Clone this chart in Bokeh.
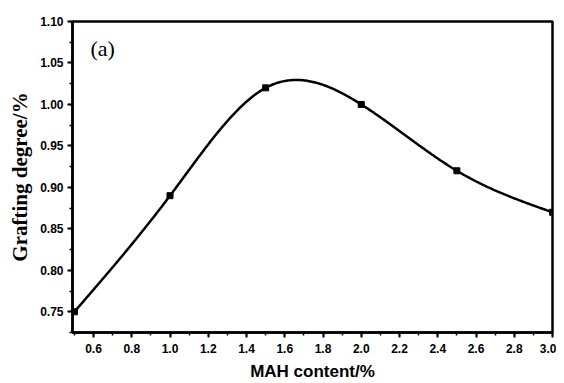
import numpy as np
from bokeh.plotting import figure
from bokeh.models import Range1d, FixedTicker, Label, CustomJSTickFormatter
from bokeh.embed import file_html
from bokeh.resources import INLINE

# data
mah_content = [0.5, 1.0, 1.5, 2.0, 2.5, 3.0]
grafting_degree = [0.75, 0.89, 1.02, 1.00, 0.92, 0.87]
x_ticks = [0.6, 0.8, 1.0, 1.2, 1.4, 1.6, 1.8, 2.0, 2.2, 2.4, 2.6, 2.8, 3.0]
y_ticks = [0.75, 0.80, 0.85, 0.90, 0.95, 1.00, 1.05, 1.10]


def natural_spline(xs, ys, n=400):
    xs = np.asarray(xs, float)
    ys = np.asarray(ys, float)
    m = len(xs)
    h = np.diff(xs)
    A = np.zeros((m, m))
    b = np.zeros(m)
    A[0, 0] = 1
    A[-1, -1] = 1
    for i in range(1, m - 1):
        A[i, i - 1] = h[i - 1]
        A[i, i] = 2 * (h[i - 1] + h[i])
        A[i, i + 1] = h[i]
        b[i] = 6 * ((ys[i + 1] - ys[i]) / h[i] - (ys[i] - ys[i - 1]) / h[i - 1])
    M = np.linalg.solve(A, b)
    xx = np.linspace(xs[0], xs[-1], n)
    yy = np.empty_like(xx)
    for k, xv in enumerate(xx):
        i = min(np.searchsorted(xs, xv, side="right") - 1, m - 2)
        t1 = xs[i + 1] - xv
        t0 = xv - xs[i]
        yy[k] = (M[i] * t1 ** 3 / (6 * h[i]) + M[i + 1] * t0 ** 3 / (6 * h[i])
                 + (ys[i] / h[i] - M[i] * h[i] / 6) * t1
                 + (ys[i + 1] / h[i] - M[i + 1] * h[i] / 6) * t0)
    return xx, yy


p = figure(width=556, height=383, output_backend="svg", toolbar_location=None,
           x_range=Range1d(0.49, 3.0), y_range=Range1d(0.725, 1.10),
           min_border_left=72, min_border_top=21, min_border_right=4, min_border_bottom=50)
p.outline_line_color = "black"
p.outline_line_width = 2.5
p.xgrid.visible = False
p.ygrid.visible = False

sx, sy = natural_spline(mah_content, grafting_degree)
p.line(sx, sy, line_color="black", line_width=2.5)
p.scatter(mah_content, grafting_degree, marker="square", size=6, color="black")

for ax in (p.xaxis[0], p.yaxis[0]):
    ax.axis_line_width = 2.5
    ax.axis_line_color = "black"
    ax.major_tick_line_width = 2
    ax.minor_tick_line_width = 1.5
    ax.major_tick_out = 5
    ax.major_tick_in = 0
    ax.minor_tick_out = 3
    ax.minor_tick_in = 0
    ax.major_label_text_font = "Liberation Sans"
    ax.major_label_text_font_style = "bold"
    ax.major_label_text_font_size = "12px"
    ax.major_label_text_color = "black"
    ax.axis_label_text_font_style = "bold"
    ax.axis_label_text_color = "black"

p.xaxis.ticker = FixedTicker(ticks=x_ticks, minor_ticks=list(np.round(np.arange(0.5, 3.01, 0.1), 2)))
p.yaxis.ticker = FixedTicker(ticks=y_ticks, minor_ticks=list(np.round(np.arange(0.725, 1.101, 0.025), 3)))
p.xaxis.formatter = CustomJSTickFormatter(code="return tick.toFixed(1);")
p.yaxis.formatter = CustomJSTickFormatter(code="return tick.toFixed(2);")
p.xaxis.major_label_standoff = 6
p.yaxis.major_label_standoff = 4

p.xaxis.axis_label = "MAH content/%"
p.xaxis.axis_label_text_font = "Liberation Sans"
p.xaxis.axis_label_text_font_size = "17px"
p.xaxis.axis_label_standoff = 6
p.yaxis.axis_label = "Grafting degree/%"
p.yaxis.axis_label_text_font = "Liberation Serif"
p.yaxis.axis_label_text_font_size = "21px"
p.yaxis.axis_label_standoff = 5

p.add_layout(Label(x=0.584, y=1.052, text="(a)", text_font="Liberation Serif",
                   text_font_size="22px", text_color="black"))

open("out.html", "w").write(file_html(p, INLINE))
